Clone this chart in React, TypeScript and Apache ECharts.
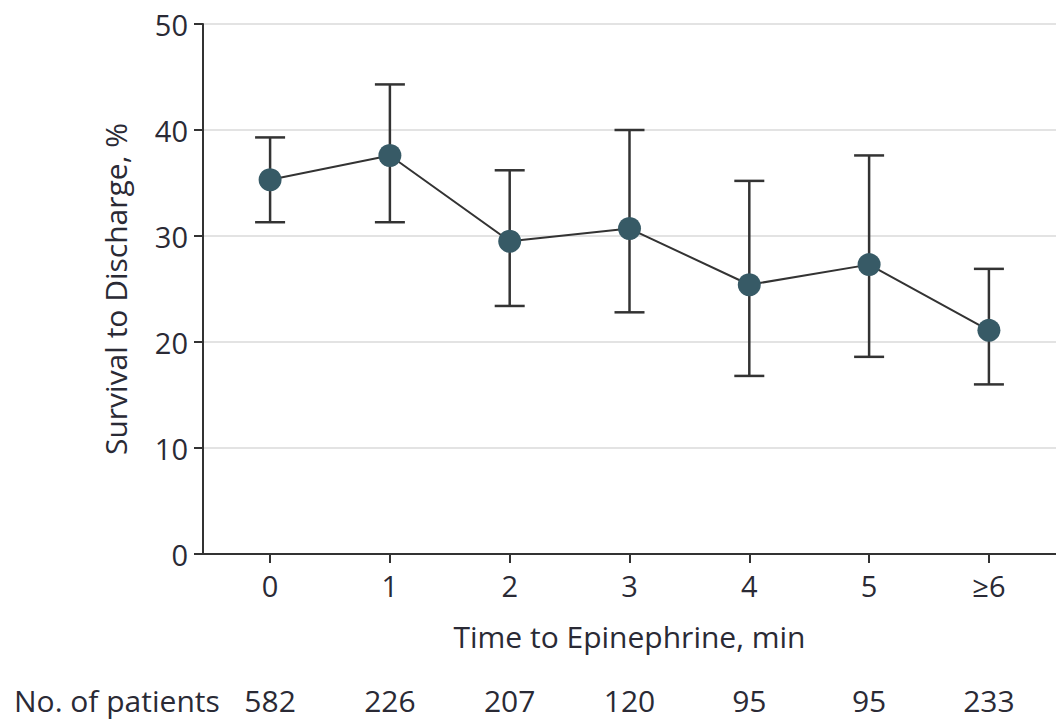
import React, { useEffect, useRef } from "react";
import * as echarts from "echarts";

const categories = ["0", "1", "2", "3", "4", "5", "≥6"];
const survival = [35.3, 37.6, 29.5, 30.7, 25.4, 27.3, 21.1];
const ciLow = [31.3, 31.3, 23.4, 22.8, 16.8, 18.6, 16.0];
const ciHigh = [39.3, 44.3, 36.2, 40.0, 35.2, 37.6, 26.9];
const patients = [582, 226, 207, 120, 95, 95, 233];
const positions = [0, 1, 2, 3, 4, 5, 6];

const FONT = "'Open Sans', Lato, sans-serif";
const TEXT = "#2a2a35";
const FS = 30;

export default function App() {
  const ref = useRef<HTMLDivElement>(null);
  useEffect(() => {
    if (!ref.current) return;
    const chart = echarts.init(ref.current, undefined, { renderer: "svg" });
    const xBase = {
      type: "value" as const,
      min: -0.56,
      max: 6.56,
      splitLine: { show: false },
    };
    chart.setOption({
      animation: false,
      backgroundColor: "#fff",
      textStyle: { fontFamily: FONT },
      grid: { left: 203, right: 0, top: 24, bottom: 167 },
      xAxis: [
        {
          ...xBase,
          position: "bottom",
          name: "Time to Epinephrine, min",
          nameLocation: "middle",
          nameGap: 67,
          nameTextStyle: { fontSize: FS, color: TEXT, fontFamily: FONT },
          axisLine: { show: true, onZero: false, lineStyle: { color: "#333", width: 2 } },
          axisTick: { show: true, length: 9, customValues: positions, lineStyle: { color: "#333", width: 2 } },
          axisLabel: {
            customValues: positions,
            formatter: (v: number) => categories[Math.round(v)] ?? "",
            fontSize: 29,
            color: TEXT,
            margin: 17,
            fontFamily: FONT,
          },
        },
        {
          ...xBase,
          position: "bottom",
          offset: 131,
          axisLine: { show: false },
          axisTick: { show: false },
          axisLabel: {
            customValues: positions,
            formatter: (v: number) => String(patients[Math.round(v)] ?? ""),
            fontSize: FS,
            color: TEXT,
            margin: 0,
            fontFamily: FONT,
          },
        },
      ],
      yAxis: {
        type: "value",
        min: 0,
        max: 50,
        interval: 10,
        name: "Survival to Discharge, %",
        nameLocation: "middle",
        nameGap: 73,
        nameTextStyle: { fontSize: FS, color: TEXT, fontFamily: FONT },
        axisLine: { show: true, onZero: false, lineStyle: { color: "#333", width: 2 } },
        axisTick: { show: true, length: 9, lineStyle: { color: "#333", width: 2 } },
        axisLabel: { fontSize: 29, color: TEXT, margin: 15, fontFamily: FONT },
        splitLine: { show: true, lineStyle: { color: "#e3e3e3", width: 2 } },
      },
      graphic: [
        {
          type: "text",
          left: 14,
          top: 685,
          style: { text: "No. of patients", fontSize: FS, fill: TEXT, fontFamily: FONT },
        },
      ],
      series: [
        {
          type: "custom",
          xAxisIndex: 0,
          z: 2,
          data: positions.map((p, i) => [p, ciLow[i], ciHigh[i]]),
          renderItem: (params: any, api: any) => {
            const x = api.value(0);
            const lo = api.coord([x, api.value(1)]);
            const hi = api.coord([x, api.value(2)]);
            const hw = 15;
            const style = { stroke: "#333", lineWidth: 2.5 };
            return {
              type: "group",
              children: [
                { type: "line", shape: { x1: lo[0], y1: lo[1], x2: hi[0], y2: hi[1] }, style },
                { type: "line", shape: { x1: hi[0] - hw, y1: hi[1], x2: hi[0] + hw, y2: hi[1] }, style },
                { type: "line", shape: { x1: lo[0] - hw, y1: lo[1], x2: lo[0] + hw, y2: lo[1] }, style },
              ],
            };
          },
        },
        {
          type: "line",
          xAxisIndex: 0,
          z: 3,
          data: positions.map((p, i) => [p, survival[i]]),
          symbol: "circle",
          symbolSize: 23,
          lineStyle: { color: "#333", width: 2 },
          itemStyle: { color: "#375a66", borderWidth: 0 },
        },
      ],
    });
    return () => chart.dispose();
  }, []);
  return <div ref={ref} style={{ position: "fixed", left: 0, top: 0, width: 1056, height: 721 }} />;
}
